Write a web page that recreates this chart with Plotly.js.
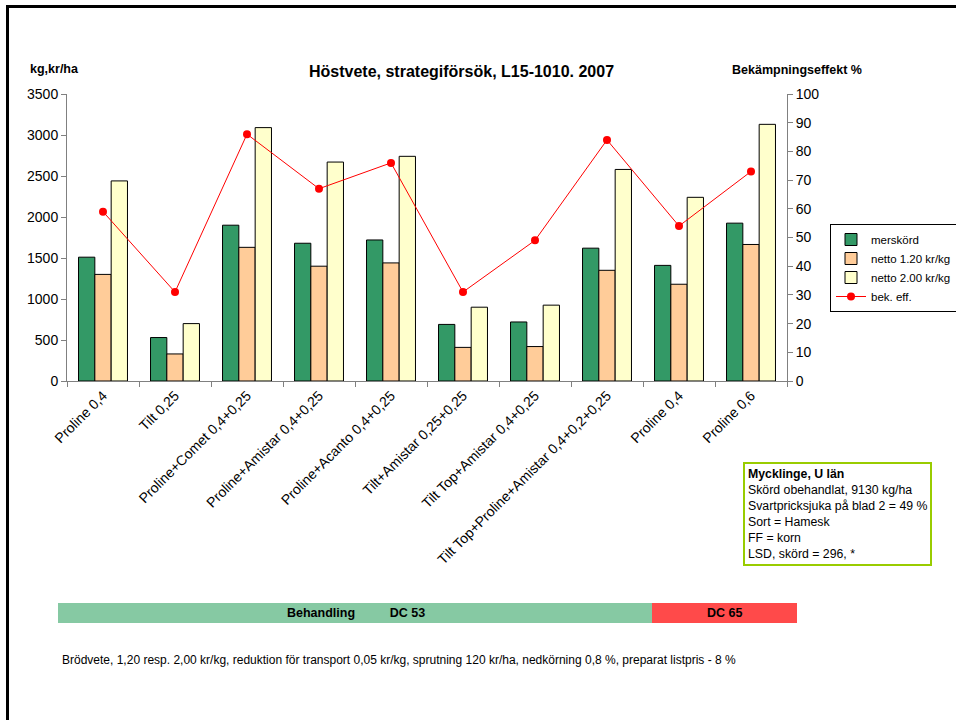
<!DOCTYPE html>
<html>
<head>
<meta charset="utf-8">
<script src="https://cdn.plot.ly/plotly-3.0.1.min.js"></script>
<style>
html,body{margin:0;padding:0;background:#fff;overflow:hidden;}
#wrap{position:relative;width:956px;height:720px;overflow:hidden;}
#chart{width:956px;height:720px;}
#frame{position:absolute;left:6px;top:5px;width:960px;height:730px;border-top:3px solid #000;border-left:3px solid #000;pointer-events:none;box-sizing:border-box;}
</style>
</head>
<body>
<div id="wrap"><div id="chart"></div><div id="frame"></div></div>
<script>
const categories = ["Proline 0,4", "Tilt 0,25", "Proline+Comet 0,4+0,25", "Proline+Amistar 0,4+0,25",
  "Proline+Acanto 0,4+0,25", "Tilt+Amistar 0,25+0,25", "Tilt Top+Amistar 0,4+0,25",
  "Tilt Top+Proline+Amistar 0,4+0,2+0,25", "Proline 0,4", "Proline 0,6"];
const merskord = [1510, 530, 1900, 1680, 1720, 690, 720, 1620, 1410, 1925];
const netto120 = [1300, 330, 1630, 1400, 1440, 410, 420, 1350, 1180, 1665];
const netto200 = [2440, 700, 3090, 2670, 2740, 900, 925, 2580, 2240, 3130];
const bekEff = [59, 31, 86, 67, 76, 31, 49, 84, 54, 73];
const seriesNames = ["merskörd", "netto 1.20 kr/kg", "netto 2.00 kr/kg", "bek. eff."];
const infoLines = ["<b>Mycklinge, U län</b>", "Skörd obehandlat, 9130 kg/ha", "Svartpricksjuka på blad 2 = 49 %",
  "Sort = Hamesk", "FF = korn", "LSD, skörd = 296, *"];
const footnote = "Brödvete, 1,20 resp. 2,00 kr/kg, reduktion för transport 0,05 kr/kg, sprutning 120 kr/ha, nedkörning 0,8 %, preparat listpris - 8 %";

const xIdx = categories.map((_, i) => i);
const bounds = categories.map((_, i) => i - 0.5).concat([categories.length - 0.5]);

const FONT = "Liberation Sans, Arial, sans-serif";
const L = 67, T = 94, W = 720, H = 287;
const px = p => (p - L) / W;
const py = p => (T + H - p) / H;

const barLine = {color: "#000000", width: 1};
const traces = [
  {type: "bar", x: xIdx, y: merskord, name: seriesNames[0], marker: {color: "#339966", line: barLine}, hoverinfo: "skip"},
  {type: "bar", x: xIdx, y: netto120, name: seriesNames[1], marker: {color: "#FFCC99", line: barLine}, hoverinfo: "skip"},
  {type: "bar", x: xIdx, y: netto200, name: seriesNames[2], marker: {color: "#FFFFCC", line: barLine}, hoverinfo: "skip"},
  {type: "scatter", mode: "lines+markers", x: xIdx, y: bekEff, yaxis: "y2", name: seriesNames[3],
   line: {color: "#FF0000", width: 1}, marker: {color: "#FF0000", size: 8}, hoverinfo: "skip"}
];

const layout = {
  width: 956, height: 720,
  margin: {l: L, r: 956 - L - W, t: T, b: 720 - T - H, autoexpand: false},
  paper_bgcolor: "#ffffff", plot_bgcolor: "#ffffff",
  font: {family: FONT, size: 14, color: "#000000"},
  barmode: "group", bargap: 0.32, bargroupgap: 0,
  showlegend: true,
  legend: {x: px(830), y: py(224), xanchor: "left", yanchor: "top", bordercolor: "#000000", borderwidth: 1,
    font: {family: FONT, size: 11.5}, bgcolor: "#ffffff", tracegroupgap: 0, itemwidth: 30},
  xaxis: {range: [-0.5, categories.length - 0.5], tickmode: "array", tickvals: xIdx, ticktext: categories,
    tickangle: -45, ticks: "", showline: true, linecolor: "#808080", linewidth: 1, showgrid: false, zeroline: false,
    tickfont: {family: FONT, size: 14},
    minor: {tickmode: "array", tickvals: bounds, ticks: "outside", ticklen: 5, tickcolor: "#808080", showgrid: false}},
  yaxis: {range: [0, 3500], dtick: 500, ticks: "outside", ticklen: 5, tickcolor: "#808080", showline: true,
    linecolor: "#808080", showgrid: false, zeroline: false, tickfont: {family: FONT, size: 14}},
  yaxis2: {range: [0, 100], dtick: 10, overlaying: "y", side: "right", ticks: "outside", ticklen: 5,
    tickcolor: "#808080", showline: true, linecolor: "#808080", showgrid: false, zeroline: false,
    tickfont: {family: FONT, size: 14}},
  annotations: [
    {text: "<b>Höstvete, strategiförsök, L15-1010. 2007</b>", xref: "paper", yref: "paper", x: px(461), y: py(71),
     xanchor: "center", yanchor: "middle", showarrow: false, font: {family: FONT, size: 16}},
    {text: "<b>kg,kr/ha</b>", xref: "paper", yref: "paper", x: px(54), y: py(69), xanchor: "center", yanchor: "middle",
     showarrow: false, font: {family: FONT, size: 12.5}},
    {text: "<b>Bekämpningseffekt %</b>", xref: "paper", yref: "paper", x: px(797), y: py(70), xanchor: "center",
     yanchor: "middle", showarrow: false, font: {family: FONT, size: 12.5}},
    {text: infoLines.join("<br>"), xref: "paper", yref: "paper", x: px(743), y: py(462), xanchor: "left", yanchor: "top",
     align: "left", showarrow: false, bordercolor: "#99CC00", borderwidth: 2, borderpad: 3, bgcolor: "#ffffff",
     font: {family: FONT, size: 12.3}},
    {text: "<b>Behandling          DC 53</b>", xref: "paper", yref: "paper", x: px(356), y: py(613), xanchor: "center",
     yanchor: "middle", showarrow: false, font: {family: FONT, size: 12.5}},
    {text: "<b>DC 65</b>", xref: "paper", yref: "paper", x: px(724), y: py(613), xanchor: "center",
     yanchor: "middle", showarrow: false, font: {family: FONT, size: 12.5}},
    {text: footnote, xref: "paper", yref: "paper", x: px(60), y: py(660), xanchor: "left", yanchor: "middle",
     showarrow: false, font: {family: FONT, size: 12}}
  ],
  shapes: [
    {type: "rect", xref: "paper", yref: "paper", x0: px(58), x1: px(652), y0: py(603), y1: py(623),
     fillcolor: "#86c9a3", line: {width: 0}, layer: "below"},
    {type: "rect", xref: "paper", yref: "paper", x0: px(652), x1: px(797), y0: py(603), y1: py(623),
     fillcolor: "#ff4a4a", line: {width: 0}, layer: "below"}
  ]
};

Plotly.newPlot("chart", traces, layout, {displayModeBar: false, staticPlot: true});
</script>
</body>
</html>
